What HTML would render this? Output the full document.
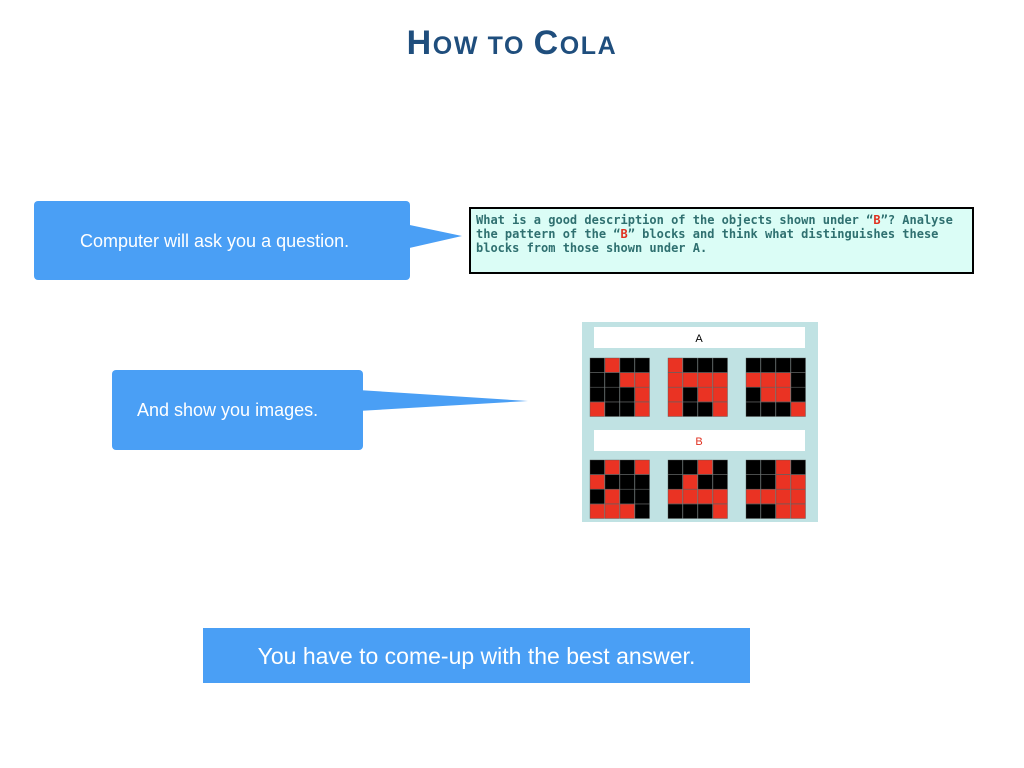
<!DOCTYPE html>
<html><head><meta charset="utf-8"><style>
body{margin:0;width:1024px;height:768px;background:#fff;position:relative;overflow:hidden;font-family:"Liberation Sans",sans-serif}
.t{position:absolute;left:0;width:1024px;top:24px;text-align:center;font-weight:bold;font-size:34px;color:#1f4e7d;font-family:"Liberation Sans",sans-serif;letter-spacing:1.6px}
.t span{font-size:25px}
.box{position:absolute;background:#4a9ff5;border-radius:4px;color:#fff;font-size:18px}
.q{position:absolute;left:469px;top:207px;border:2px solid #000;background:#dbfdf6;font-family:"DejaVu Sans Mono","Liberation Mono",monospace;font-weight:bold;font-size:12px;line-height:14px;color:#2f7070;padding:4px 0 0 5px;box-sizing:border-box;width:505px;height:67px;white-space:pre}
.q b{color:#e03020}
</style></head><body>
<div class="t">H<span>OW TO </span>C<span>OLA</span></div>
<svg width="1024" height="768" style="position:absolute;left:0;top:0">
<polygon points="405,224 462,236 405,249" fill="#4a9ff5"/>
<polygon points="358,390 528,401 358,411" fill="#4a9ff5"/>
<rect x="582" y="322" width="236" height="200" fill="#c0e2e3"/>
<rect x="594" y="327" width="211" height="21" fill="#fff"/>
<rect x="594" y="430" width="211" height="21" fill="#fff"/>
<text x="699" y="342" font-family="Liberation Sans" font-size="11" text-anchor="middle" fill="#000">A</text>
<text x="699" y="445" font-family="Liberation Sans" font-size="11" text-anchor="middle" fill="#e03020">B</text>
<g id="g"></g>
</svg>
<div class="box" style="left:34px;top:201px;width:376px;height:79px"><span style="position:absolute;left:46px;top:30px">Computer will ask you a question.</span></div>
<div class="box" style="left:112px;top:370px;width:251px;height:80px"><span style="position:absolute;left:25px;top:30px">And show you images.</span></div>
<div class="box" style="left:203px;top:628px;width:547px;height:55px;border-radius:0;font-size:23px;text-align:center;line-height:57px">You have to come-up with the best answer.</div>
<div class="q">What is a good description of the objects shown under “<b>B</b>”? Analyse
the pattern of the “<b>B</b>” blocks and think what distinguishes these
blocks from those shown under A.</div>
<script>
var P=[["0100","0011","0001","1001"],["1000","1111","1011","1001"],["0000","1110","0110","0001"],
["0101","1000","0100","1110"],["0010","0100","1111","0001"],["0010","0011","1111","0011"]];
var xs=[590,668,746],ys=[358,460],s="";
P.forEach(function(p,i){var x0=xs[i%3],y0=ys[Math.floor(i/3)];
for(var r=0;r<4;r++)for(var c=0;c<4;c++){s+='<rect x="'+(x0+c*15)+'" y="'+(y0+r*14.7)+'" width="14.5" height="14.4" fill="'+(p[r][c]=="1"?"#ea3323":"#000")+'" stroke="#555" stroke-width="0.4"/>';}});
document.getElementById("g").innerHTML=s;
</script>
</body></html>
